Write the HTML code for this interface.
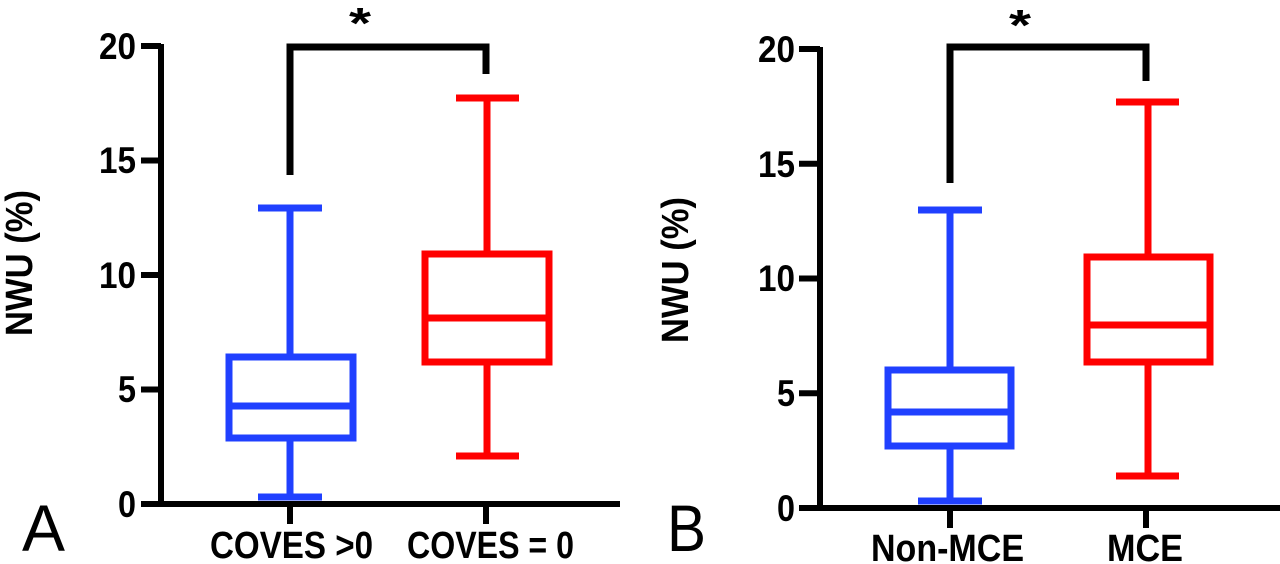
<!DOCTYPE html>
<html><head><meta charset="utf-8"><style>
html,body{margin:0;padding:0;background:#fff;}
svg{display:block;}
text{font-family:"Liberation Sans",sans-serif;}
</style></head><body>
<svg width="1280" height="564" viewBox="0 0 1280 564" xmlns="http://www.w3.org/2000/svg">
<g stroke-linecap="butt" fill="none">
<line x1="161" y1="44" x2="161" y2="504" stroke="#000" stroke-width="6"/>
<line x1="141" y1="504" x2="620" y2="504" stroke="#000" stroke-width="6"/>
<g stroke="#000" stroke-width="6">
<line x1="141" y1="46" x2="161" y2="46"/>
<line x1="141" y1="160.5" x2="161" y2="160.5"/>
<line x1="141" y1="275" x2="161" y2="275"/>
<line x1="141" y1="389.5" x2="161" y2="389.5"/>
<line x1="290" y1="504" x2="290" y2="524"/>
<line x1="486" y1="504" x2="486" y2="524"/>
</g>
<polyline points="290,175 290,47 486,47 486,74" stroke="#000" stroke-width="7"/>
<g stroke="#2040ff" stroke-width="7">
<rect x="229" y="357" width="124" height="81"/>
<line x1="229" y1="406" x2="353" y2="406"/>
<line x1="290" y1="357" x2="290" y2="208"/>
<line x1="290" y1="438" x2="290" y2="497"/>
<line x1="258" y1="208" x2="322" y2="208"/>
<line x1="258" y1="497" x2="322" y2="497"/>
</g>
<g stroke="#ff0000" stroke-width="7">
<rect x="425" y="254" width="124" height="108"/>
<line x1="425" y1="318" x2="549" y2="318"/>
<line x1="487" y1="254" x2="487" y2="98"/>
<line x1="487" y1="362" x2="487" y2="456"/>
<line x1="456" y1="98" x2="519" y2="98"/>
<line x1="456" y1="456" x2="519" y2="456"/>
</g>

<line x1="820" y1="47" x2="820" y2="508" stroke="#000" stroke-width="6"/>
<line x1="799" y1="508" x2="1280" y2="508" stroke="#000" stroke-width="6"/>
<g stroke="#000" stroke-width="6">
<line x1="799" y1="49" x2="820" y2="49"/>
<line x1="799" y1="163.7" x2="820" y2="163.7"/>
<line x1="799" y1="278.5" x2="820" y2="278.5"/>
<line x1="799" y1="393.2" x2="820" y2="393.2"/>
<line x1="950" y1="508" x2="950" y2="528"/>
<line x1="1146" y1="508" x2="1146" y2="528"/>
</g>
<polyline points="950,183 950,47 1146,47 1146,81" stroke="#000" stroke-width="7"/>
<g stroke="#2040ff" stroke-width="7">
<rect x="888" y="370" width="123" height="76"/>
<line x1="888" y1="412" x2="1011" y2="412"/>
<line x1="950" y1="370" x2="950" y2="210"/>
<line x1="950" y1="446" x2="950" y2="501"/>
<line x1="918" y1="210" x2="982" y2="210"/>
<line x1="918" y1="501" x2="982" y2="501"/>
</g>
<g stroke="#ff0000" stroke-width="7">
<rect x="1087" y="257" width="123" height="105"/>
<line x1="1087" y1="325" x2="1210" y2="325"/>
<line x1="1148" y1="257" x2="1148" y2="102"/>
<line x1="1148" y1="362" x2="1148" y2="476"/>
<line x1="1116" y1="102" x2="1179" y2="102"/>
<line x1="1116" y1="476" x2="1179" y2="476"/>
</g>
</g>

<g font-weight="bold" font-size="37" fill="#000" text-anchor="end">
<text x="136" y="59" textLength="37" lengthAdjust="spacingAndGlyphs">20</text>
<text x="136" y="173" textLength="37" lengthAdjust="spacingAndGlyphs">15</text>
<text x="136" y="288" textLength="37" lengthAdjust="spacingAndGlyphs">10</text>
<text x="136" y="402" textLength="18" lengthAdjust="spacingAndGlyphs">5</text>
<text x="136" y="517" textLength="18" lengthAdjust="spacingAndGlyphs">0</text>
<text x="795" y="62" textLength="37" lengthAdjust="spacingAndGlyphs">20</text>
<text x="795" y="177" textLength="37" lengthAdjust="spacingAndGlyphs">15</text>
<text x="795" y="291" textLength="37" lengthAdjust="spacingAndGlyphs">10</text>
<text x="795" y="406" textLength="18" lengthAdjust="spacingAndGlyphs">5</text>
<text x="795" y="521" textLength="18" lengthAdjust="spacingAndGlyphs">0</text>
</g>
<g font-weight="bold" font-size="38" fill="#000">
<text x="210" y="558" textLength="163" lengthAdjust="spacingAndGlyphs">COVES &gt;0</text>
<text x="407" y="558" textLength="167" lengthAdjust="spacingAndGlyphs">COVES = 0</text>
<text x="871" y="561" textLength="153" lengthAdjust="spacingAndGlyphs">Non-MCE</text>
<text x="1107" y="561" textLength="76" lengthAdjust="spacingAndGlyphs">MCE</text>
<text x="349" y="38" font-size="44" textLength="22" lengthAdjust="spacingAndGlyphs">*</text>
<text x="1009" y="40" font-size="44" textLength="22" lengthAdjust="spacingAndGlyphs">*</text>
<text transform="translate(32,336) rotate(-90)" textLength="146" lengthAdjust="spacingAndGlyphs">NWU (%)</text>
<text transform="translate(688,343) rotate(-90)" textLength="146" lengthAdjust="spacingAndGlyphs">NWU (%)</text>
</g>
<g font-size="66" fill="#000">
<text x="22" y="551" textLength="43" lengthAdjust="spacingAndGlyphs">A</text>
<text x="667" y="551" textLength="39" lengthAdjust="spacingAndGlyphs">B</text>
</g>
</svg>
</body></html>
